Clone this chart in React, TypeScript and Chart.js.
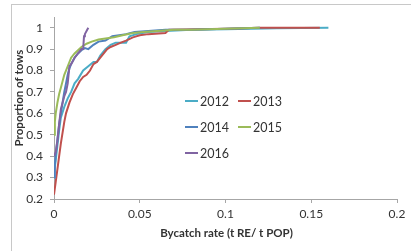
import React, { useEffect, useRef } from "react";
import { Chart, registerables } from "chart.js";

Chart.register(...registerables);

const seriesNames = ["2012", "2013", "2014", "2015", "2016"];
const seriesColors = ["#4bacc6", "#c0504d", "#4f81bd", "#9bbb59", "#8064a2"];

const x2012 = [0, 0.001, 0.002, 0.003, 0.004, 0.006, 0.008, 0.010, 0.012, 0.014, 0.017, 0.020, 0.023, 0.025, 0.027, 0.030, 0.033, 0.036, 0.040, 0.042, 0.044, 0.048, 0.055, 0.065, 0.08, 0.1, 0.13, 0.16];
const y2012 = [0.32, 0.38, 0.45, 0.52, 0.58, 0.63, 0.67, 0.70, 0.74, 0.76, 0.80, 0.82, 0.84, 0.84, 0.87, 0.90, 0.92, 0.93, 0.93, 0.93, 0.96, 0.97, 0.98, 0.985, 0.99, 0.993, 0.997, 1.0];

const x2013 = [0, 0.001, 0.002, 0.003, 0.004, 0.005, 0.006, 0.007, 0.009, 0.011, 0.013, 0.015, 0.017, 0.019, 0.021, 0.023, 0.025, 0.027, 0.029, 0.031, 0.033, 0.036, 0.039, 0.042, 0.046, 0.05, 0.055, 0.065, 0.067, 0.1, 0.12, 0.155];
const y2013 = [0.22, 0.28, 0.34, 0.40, 0.46, 0.51, 0.56, 0.60, 0.65, 0.69, 0.72, 0.75, 0.77, 0.78, 0.80, 0.83, 0.84, 0.86, 0.88, 0.90, 0.91, 0.92, 0.93, 0.94, 0.955, 0.965, 0.97, 0.975, 0.99, 0.995, 1.0, 1.0];

const x2014 = [0, 0.0005, 0.001, 0.002, 0.003, 0.004, 0.005, 0.006, 0.007, 0.008, 0.009, 0.010, 0.012, 0.014, 0.016, 0.018, 0.020, 0.023, 0.026, 0.030, 0.034, 0.038, 0.042, 0.047, 0.055, 0.065, 0.08, 0.1, 0.12];
const y2014 = [0.30, 0.36, 0.41, 0.48, 0.55, 0.60, 0.65, 0.70, 0.74, 0.78, 0.81, 0.83, 0.86, 0.88, 0.895, 0.905, 0.90, 0.92, 0.935, 0.94, 0.96, 0.965, 0.97, 0.98, 0.985, 0.99, 0.99, 0.995, 1.0];

const x2015 = [0, 0.0005, 0.001, 0.002, 0.003, 0.004, 0.005, 0.006, 0.008, 0.010, 0.012, 0.014, 0.016, 0.019, 0.022, 0.026, 0.030, 0.035, 0.040, 0.046, 0.052, 0.06, 0.07, 0.08, 0.1, 0.12];
const y2015 = [0.50, 0.56, 0.60, 0.65, 0.69, 0.72, 0.75, 0.78, 0.82, 0.86, 0.88, 0.895, 0.91, 0.925, 0.935, 0.945, 0.95, 0.955, 0.965, 0.975, 0.98, 0.985, 0.99, 0.99, 0.995, 1.0];

const x2016 = [0, 0.001, 0.002, 0.003, 0.004, 0.005, 0.006, 0.007, 0.008, 0.009, 0.010, 0.012, 0.014, 0.016, 0.017, 0.0175, 0.018, 0.020];
const y2016 = [0.40, 0.42, 0.47, 0.55, 0.62, 0.65, 0.68, 0.70, 0.74, 0.82, 0.83, 0.86, 0.88, 0.90, 0.90, 0.96, 0.97, 1.0];

const xSeries = [x2012, x2013, x2014, x2015, x2016];
const ySeries = [y2012, y2013, y2014, y2015, y2016];

const xTicks = [0, 0.05, 0.1, 0.15, 0.2];
const yTicks = [0.2, 0.3, 0.4, 0.5, 0.6, 0.7, 0.8, 0.9, 1];

const xTitle = "Bycatch rate (t RE/ t POP)";
const yTitle = "Proportion of tows";

const FONT = 'Lato, "Open Sans", sans-serif';
const AXIS_COLOR = "#a6a6a6";
const TEXT_COLOR = "#333333";

const decorPlugin = {
  id: "decor",
  beforeDraw(chart: any) {
    const ctx = chart.ctx;
    ctx.save();
    ctx.fillStyle = "#ffffff";
    ctx.fillRect(0, 0, chart.width, chart.height);
    ctx.strokeStyle = "#c8c8c8";
    ctx.lineWidth = 1;
    ctx.strokeRect(11.5, 4.5, chart.width + 20, chart.height + 20);
    ctx.restore();
  },
  afterDraw(chart: any) {
    const ctx = chart.ctx;
    const xs = chart.scales.x;
    ctx.save();
    ctx.fillStyle = TEXT_COLOR;
    ctx.font = `bold 11.5px ${FONT}`;
    ctx.textAlign = "center";
    ctx.textBaseline = "middle";
    ctx.fillText(xTitle, (xs.left + xs.right) / 2 + 1, 233);
    ctx.translate(19, 98);
    ctx.rotate(-Math.PI / 2);
    ctx.fillText(yTitle, 0, 0);
    ctx.restore();

    // legend
    ctx.save();
    ctx.font = `12.5px ${FONT}`;
    ctx.textBaseline = "middle";
    ctx.textAlign = "left";
    const cols = [185, 238];
    const rows = [101, 127, 153];
    seriesNames.forEach((name, i) => {
      const cx = cols[i % 2];
      const cy = rows[Math.floor(i / 2)];
      ctx.strokeStyle = seriesColors[i];
      ctx.lineWidth = 2;
      ctx.beginPath();
      ctx.moveTo(cx, cy);
      ctx.lineTo(cx + 13, cy);
      ctx.stroke();
      ctx.fillStyle = TEXT_COLOR;
      ctx.fillText(name, cx + 15, cy + 0.5);
    });
    ctx.restore();
  },
};

export default function App() {
  const canvasRef = useRef<HTMLCanvasElement | null>(null);

  useEffect(() => {
    document.body.style.margin = "0";
    const canvas = canvasRef.current;
    if (!canvas) return;
    const datasets = seriesNames.map((name, i) => ({
      label: name,
      data: xSeries[i].map((xv, j) => ({ x: xv, y: ySeries[i][j] })),
      borderColor: seriesColors[i],
      backgroundColor: seriesColors[i],
      borderWidth: 2,
      pointRadius: 0,
      tension: 0,
      fill: false,
      order: seriesNames.length - i,
    }));
    const chart = new Chart(canvas, {
      type: "line",
      data: { datasets },
      plugins: [decorPlugin],
      options: {
        animation: false,
        responsive: true,
        maintainAspectRatio: false,
        layout: { padding: { top: 17, right: 14, left: 0, bottom: 0 } },
        plugins: {
          legend: { display: false },
          tooltip: { enabled: false },
        },
        scales: {
          x: {
            type: "linear",
            min: 0,
            max: 0.2,
            afterBuildTicks: (scale: any) => {
              scale.ticks = xTicks.map((v) => ({ value: v }));
            },
            afterFit: (scale: any) => {
              scale.height = 52;
            },
            border: { color: AXIS_COLOR, width: 1 },
            grid: { drawOnChartArea: false, drawTicks: true, tickLength: 4, color: AXIS_COLOR },
            ticks: {
              padding: 4,
              color: TEXT_COLOR,
              font: { family: FONT, size: 12 },
              maxRotation: 0,
              callback: (v: any) => String(Number(Number(v).toFixed(2))),
            },
          },
          y: {
            type: "linear",
            min: 0.2,
            max: 1.05,
            afterBuildTicks: (scale: any) => {
              scale.ticks = yTicks.map((v) => ({ value: v }));
            },
            afterFit: (scale: any) => {
              scale.width = 54;
            },
            border: { color: AXIS_COLOR, width: 1 },
            grid: { drawOnChartArea: false, drawTicks: true, tickLength: 4, color: AXIS_COLOR },
            ticks: {
              padding: 7,
              color: TEXT_COLOR,
              font: { family: FONT, size: 12 },
              callback: (v: any) => String(Number(Number(v).toFixed(1))),
            },
          },
        },
      },
    });
    return () => chart.destroy();
  }, []);

  return (
    <div style={{ position: "relative", width: 411, height: 251 }}>
      <canvas ref={canvasRef} />
    </div>
  );
}
